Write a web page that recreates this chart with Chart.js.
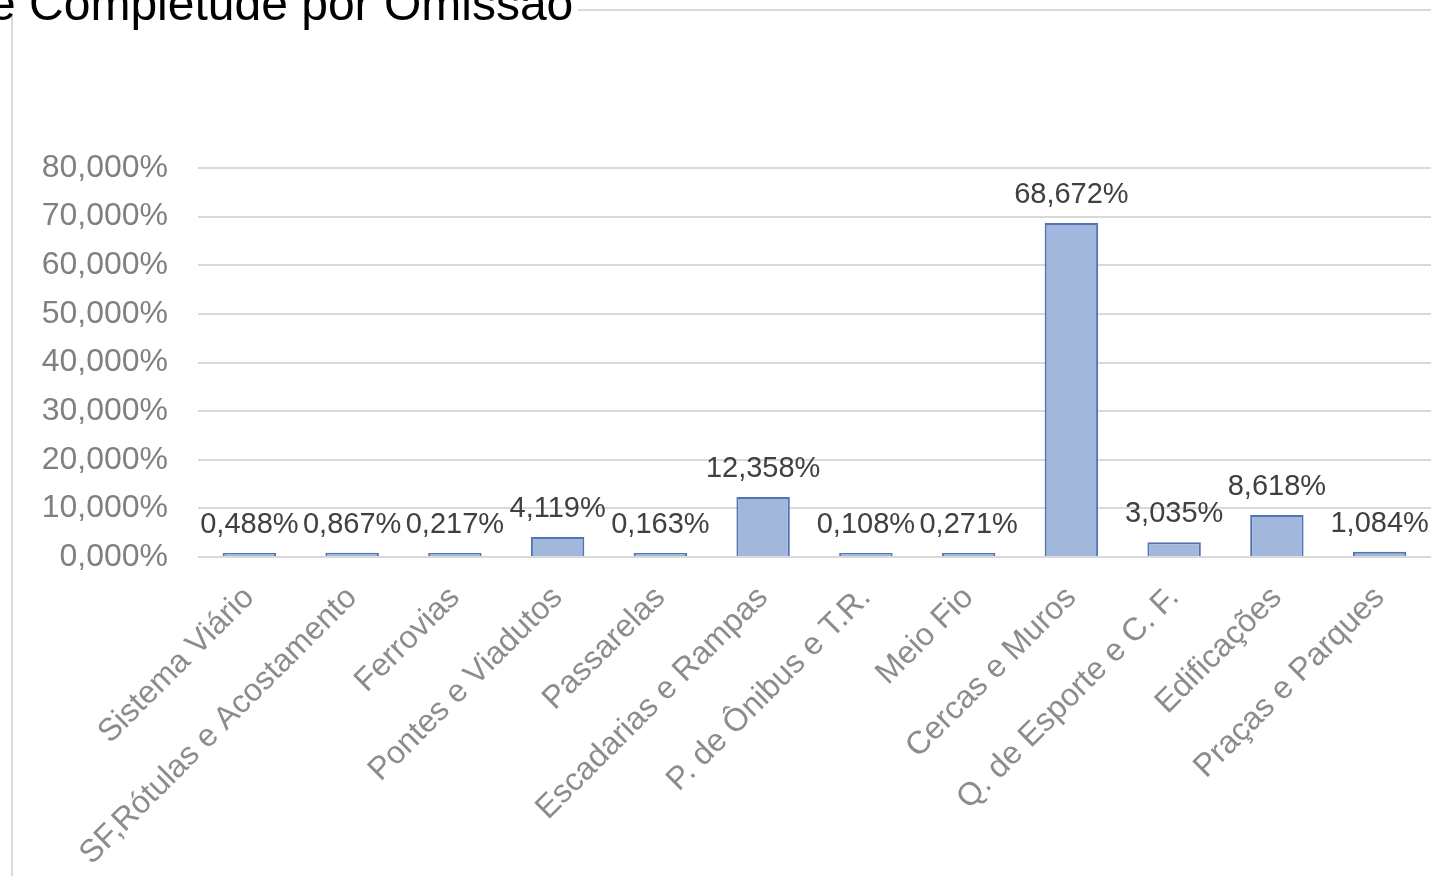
<!DOCTYPE html>
<html>
<head>
<meta charset="utf-8">
<title>Completude por Omissão</title>
<script src="https://cdn.jsdelivr.net/npm/chart.js"></script>
<style>
    html, body { margin: 0; padding: 0; background: #ffffff; }
    canvas { display: block; }
</style>
</head>
<body>
<canvas id="myChart" width="1431" height="876"></canvas>
<script>
// Chart data
const titleText = 'e Completude por Omissão';
const categories = [
    'Sistema Viário',
    'SF,Rótulas e Acostamento',
    'Ferrovias',
    'Pontes e Viadutos',
    'Passarelas',
    'Escadarias e Rampas',
    'P. de Ônibus e T.R.',
    'Meio Fio',
    'Cercas e Muros',
    'Q. de Esporte e C. F.',
    'Edificações',
    'Praças e Parques'
];
const omissionPct = [0.488, 0.867, 0.217, 4.119, 0.163, 12.358, 0.108, 0.271, 68.672, 3.035, 8.618, 1.084];
const yTicks = [0, 10, 20, 30, 40, 50, 60, 70, 80];

const fontFamily = '"Liberation Sans", Arial, sans-serif';

// Format numbers like 12,358%
const fmtPct = (v) => v.toFixed(3).replace('.', ',') + '%';

// Draws the cut-off title and the chart frame lines
const framePlugin = {
    id: 'frame',
    beforeDraw(chart) {
        const ctx = chart.ctx;
        ctx.save();
        ctx.strokeStyle = '#d9d9d9';
        ctx.lineWidth = 2;
        ctx.beginPath();
        ctx.moveTo(578, 10);
        ctx.lineTo(1431, 10);
        ctx.moveTo(12, 14);
        ctx.lineTo(12, 876);
        ctx.stroke();

        ctx.fillStyle = '#000000';
        ctx.font = '48px ' + fontFamily;
        ctx.textAlign = 'left';
        ctx.textBaseline = 'alphabetic';
        ctx.fillText(titleText, -11, 20);
        ctx.restore();
    }
};

// Value labels above each bar
const valueLabelPlugin = {
    id: 'valueLabels',
    afterDatasetsDraw(chart) {
        const ctx = chart.ctx;
        const meta = chart.getDatasetMeta(0);
        ctx.save();
        ctx.fillStyle = '#404040';
        ctx.font = '29px ' + fontFamily;
        ctx.textAlign = 'center';
        ctx.textBaseline = 'alphabetic';
        meta.data.forEach((bar, i) => {
            ctx.fillText(fmtPct(omissionPct[i]), bar.x, bar.y - 20);
        });
        ctx.restore();
    }
};

const ctx = document.getElementById('myChart').getContext('2d');
const myChart = new Chart(ctx, {
    type: 'bar',
    data: {
        labels: categories,
        datasets: [{
            label: 'Omissão',
            data: omissionPct,
            backgroundColor: '#a2b7dc',
            borderColor: '#5274b4',
            borderWidth: 2,
            borderSkipped: 'bottom',
            minBarLength: 4,
            barPercentage: 0.52,
            categoryPercentage: 1.0
        }]
    },
    options: {
        responsive: false,
        animation: false,
        devicePixelRatio: 1,
        layout: {
            padding: { top: 168, left: 0, right: 0, bottom: 0 }
        },
        plugins: {
            legend: { display: false },
            title: { display: false },
            tooltip: { enabled: false }
        },
        scales: {
            x: {
                grid: { display: false },
                border: { display: false },
                ticks: {
                    color: '#8c8c8c',
                    font: { family: fontFamily, size: 32 },
                    minRotation: 45,
                    maxRotation: 45,
                    autoSkip: false,
                    padding: 14
                },
                afterFit(axis) {
                    axis.height = 319;
                }
            },
            y: {
                min: 0,
                max: 80,
                grid: { color: '#d9d9d9', lineWidth: 2, drawTicks: false },
                border: { display: false },
                ticks: {
                    color: '#808080',
                    font: { family: fontFamily, size: 32 },
                    padding: 30,
                    callback: (v) => fmtPct(v)
                },
                afterBuildTicks(axis) {
                    axis.ticks = yTicks.map((v) => ({ value: v }));
                },
                afterFit(axis) {
                    axis.width = 198;
                }
            }
        }
    },
    plugins: [framePlugin, valueLabelPlugin]
});
</script>
</body>
</html>
